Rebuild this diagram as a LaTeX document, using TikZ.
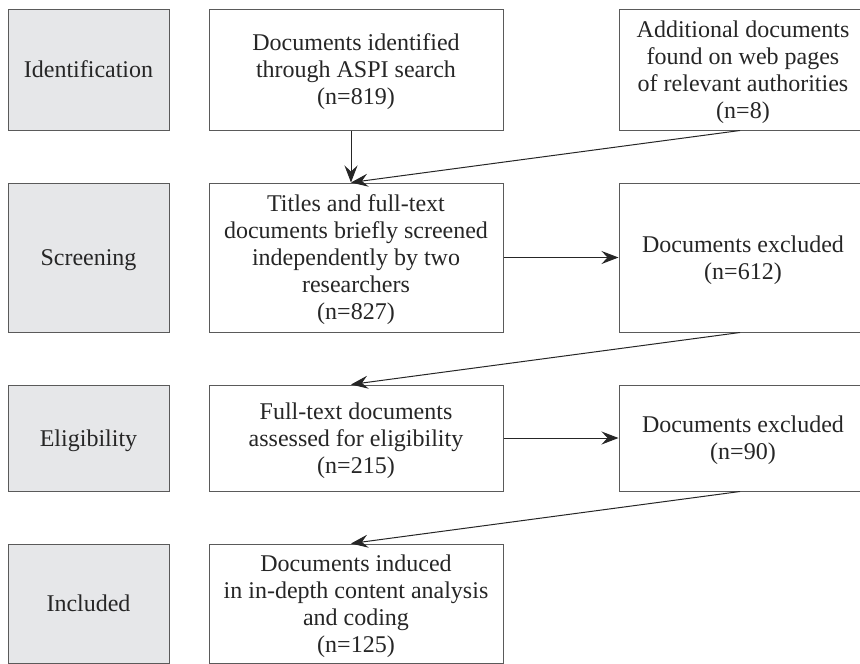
\documentclass[tikz,border=0pt]{standalone}
\usetikzlibrary{arrows.meta}
\usepackage{fontspec}
\setmainfont{Liberation Serif}
\definecolor{stagefill}{HTML}{E6E7E9}
\definecolor{edge}{HTML}{5A5A5A}
\begin{document}
\begin{tikzpicture}[x=1pt,y=-1pt,
  every node/.style={font=\fontsize{24}{27}\selectfont, text=black!85, align=center, inner sep=0pt, text depth=0pt},
  stage/.style={draw=edge, line width=1pt, fill=stagefill, minimum width=161pt},
  flowbox/.style={draw=edge, line width=1pt, fill=white},
  arr/.style={draw=black!85, line width=1pt, -{Stealth[length=17pt,width=13pt,inset=6pt]}}]
\useasboundingbox (0,0) rectangle (860,664);
% stage boxes
\node[stage, minimum height=121pt] (sid) at (88.5,69.5) {Identification};
\node[stage, minimum height=149pt] (ssc) at (88.5,257.5) {Screening};
\node[stage, minimum height=106pt] (sel) at (88.5,438) {Eligibility};
\node[stage, minimum height=119pt] (sin) at (88.5,603.5) {Included};
% middle column
\node[flowbox, minimum width=294pt, minimum height=121pt] (m1) at (356,69.5) {Documents identified\\through ASPI search\\(n=819)};
\node[flowbox, minimum width=294pt, minimum height=149pt] (m2) at (356,257.5) {Titles and full-text\\documents briefly screened\\independently by two\\researchers\\(n=827)};
\node[flowbox, minimum width=294pt, minimum height=106pt] (m3) at (356,438) {Full-text documents\\assessed for eligibility\\(n=215)};
\node[flowbox, minimum width=294pt, minimum height=119pt] (m4) at (356,603.5) {Documents induced\\in in-depth content analysis\\and coding\\(n=125)};
% right column
\node[flowbox, minimum width=248pt, minimum height=121pt] (r1) at (743,69.5) {Additional documents\\found on web pages\\of relevant authorities\\(n=8)};
\node[flowbox, minimum width=248pt, minimum height=149pt] (r2) at (743,257.5) {Documents excluded\\(n=612)};
\node[flowbox, minimum width=248pt, minimum height=106pt] (r3) at (743,438) {Documents excluded\\(n=90)};
% connectors
\draw[arr] ([xshift=-5pt]m1.south) -- ([xshift=-5pt]m2.north);
\draw[arr] ([xshift=-3pt]r1.south) -- ([xshift=-5pt]m2.north);
\draw[arr] (m2.east) -- (r2.west);
\draw[arr] ([xshift=-3pt]r2.south) -- ([xshift=-5pt]m3.north);
\draw[arr] (m3.east) -- (r3.west);
\draw[arr] ([xshift=-3pt]r3.south) -- ([xshift=-5pt]m4.north);
\end{tikzpicture}
\end{document}
